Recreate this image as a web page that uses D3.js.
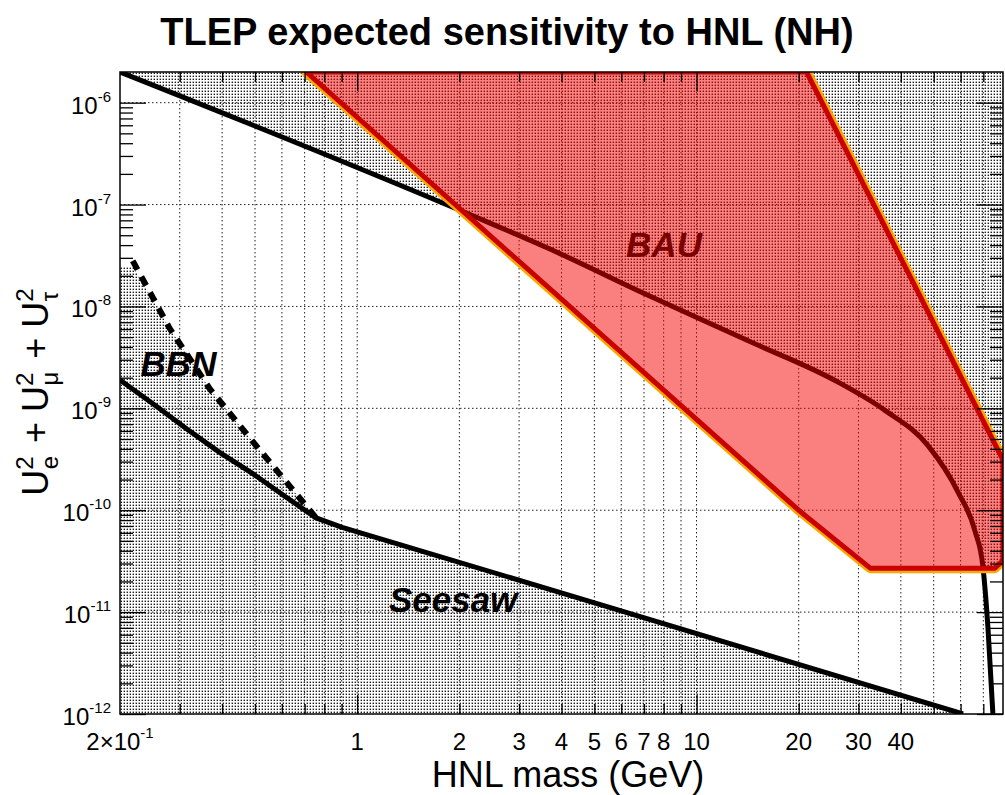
<!DOCTYPE html>
<html>
<head>
<meta charset="utf-8">
<script src="https://cdn.jsdelivr.net/npm/d3@7"></script>
<style>
  body { margin: 0; background: #fff; }
  svg { font-family: "Liberation Sans", Arial, Helvetica, sans-serif; }
</style>
</head>
<body>
<div id="chart"></div>
<script>
// 軸の範囲
var xDomain = [0.2, 80];
var yDomain = [1e-12, 2e-6];

// 目盛り
var xLabelTicks = [0.2, 1, 2, 3, 4, 5, 6, 7, 8, 10, 20, 30, 40];
var xMajorTicks = [1, 10];
var xMinorTicks = [0.3, 0.4, 0.5, 0.6, 0.7, 0.8, 0.9, 2, 3, 4, 5, 6, 7, 8, 9, 20, 30, 40, 50, 60, 70];
var yDecades = [1e-12, 1e-11, 1e-10, 1e-9, 1e-8, 1e-7, 1e-6];

// 上側の境界 (黒線, BAU 内部は暗赤に見える)
var upperMass = [0.2, 2.09, 3.67, 7.22, 14.2, 26.2, 36.0, 48.1, 59.0, 66.2, 69.8, 72.3, 74.7];
var upperU2 = [2e-6, 8.3e-8, 3.7e-8, 1.28e-8, 4.6e-9, 1.8e-9, 9.5e-10, 4.3e-10, 1.5e-10, 6.2e-11, 2.8e-11, 6.7e-12, 1e-12];

// Seesaw の下限
var seesawMass = [0.2, 0.256, 0.314, 0.393, 0.491, 0.618, 0.757, 0.903, 5.15, 61];
var seesawU2 = [1.9e-9, 1.05e-9, 6.3e-10, 3.7e-10, 2.3e-10, 1.34e-10, 8.4e-11, 6.8e-11, 1.2e-11, 1e-12];

// BBN (破線)
var bbnMass = [0.218, 0.28, 0.367, 0.498, 0.757];
var bbnU2 = [2.8e-8, 6.1e-9, 1.57e-9, 4.5e-10, 8.4e-11];

// BAU 領域
var bauMass = [0.708, 21.1, 80, 80, 75.7, 32.5, 20];
var bauU2 = [2e-6, 2e-6, 3.1e-10, 3.2e-11, 2.7e-11, 2.7e-11, 1e-10];

// 注記の位置 (質量, U2)
var noteText = ["BBN", "Seesaw", "BAU"];
var noteMass = [0.23, 1.24, 6.2];
var noteU2 = [2.1e-9, 1.0e-11, 3.05e-8];

var width = 1005;
var height = 795;
var padL = 120, padR = 1003, padT = 72, padB = 714;

var svg = d3.select("#chart")
    .append("svg")
    .attr("width", width)
    .attr("height", height);

var x = d3.scaleLog().domain(xDomain).range([padL, padR]);
var y = d3.scaleLog().domain(yDomain).range([padB, padT]);

function zip(xs, ys) {
    var out = [];
    for (var i = 0; i < xs.length; i++) out.push([xs[i], ys[i]]);
    return out;
}
function px(d) { return [x(d[0]), y(d[1])]; }

var defs = svg.append("defs");

// 点描パターン
var pat = defs.append("pattern")
    .attr("id", "dots")
    .attr("patternUnits", "userSpaceOnUse")
    .attr("width", 3)
    .attr("height", 3);
pat.append("rect")
    .attr("x", 0.6).attr("y", 0.6)
    .attr("width", 1.4).attr("height", 1.4)
    .attr("fill", "#1a1a1a");

defs.append("clipPath")
    .attr("id", "frameClip")
    .append("rect")
    .attr("x", padL).attr("y", padT)
    .attr("width", padR - padL).attr("height", padB - padT);

var bauPts = zip(bauMass, bauU2).map(px);
var bauPath = "M" + bauPts.map(function (p) { return p.join(","); }).join("L") + "Z";

var mask = defs.append("mask").attr("id", "outside");
mask.append("rect").attr("x", 0).attr("y", 0).attr("width", width).attr("height", height).attr("fill", "#fff");
mask.append("path").attr("d", bauPath).attr("fill", "#000");

var plot = svg.append("g").attr("clip-path", "url(#frameClip)");

// グリッド
plot.append("g")
    .selectAll("line")
    .data(xMinorTicks.concat(xMajorTicks))
    .enter()
    .append("line")
    .attr("x1", function (d) { return x(d); })
    .attr("x2", function (d) { return x(d); })
    .attr("y1", padT).attr("y2", padB)
    .attr("stroke", "#222")
    .attr("stroke-width", 1)
    .attr("stroke-dasharray", "1.5,2.5");

plot.append("g")
    .selectAll("line")
    .data(yDecades.slice(1))
    .enter()
    .append("line")
    .attr("x1", padL).attr("x2", padR)
    .attr("y1", function (d) { return y(d); })
    .attr("y2", function (d) { return y(d); })
    .attr("stroke", "#222")
    .attr("stroke-width", 1)
    .attr("stroke-dasharray", "1.5,2.5");

// 上側の除外領域
var upperLine = d3.line()
    .x(function (d) { return x(d[0]); })
    .y(function (d) { return y(d[1]); })
    .curve(d3.curveMonotoneX);
var upperData = zip(upperMass, upperU2);
var upperFill = upperLine(upperData.slice(0, 11)) +
    "L" + x(80) + "," + y(2.8e-11) +
    "L" + x(80) + "," + y(2e-6) +
    "L" + x(0.2) + "," + y(2e-6) + "Z";
plot.append("path")
    .attr("d", upperFill)
    .attr("fill", "url(#dots)");

// 下側 (BBN + Seesaw)
var linear = d3.line()
    .x(function (d) { return x(d[0]); })
    .y(function (d) { return y(d[1]); });
var lowerPts = [[0.2, 2.5e-8], [0.218, 2.5e-8]]
    .concat(zip(bbnMass, bbnU2).slice(1))
    .concat(zip(seesawMass, seesawU2).slice(7))
    .concat([[0.2, 1e-12]]);
plot.append("path")
    .attr("d", linear(lowerPts) + "Z")
    .attr("fill", "url(#dots)");

// 注記 (BAU は赤の半透明の下で暗赤に見える)
plot.append("g")
    .selectAll("text")
    .data(noteText)
    .enter()
    .append("text")
    .text(function (d) { return d; })
    .attr("x", function (d, i) { return x(noteMass[i]); })
    .attr("y", function (d, i) { return y(noteU2[i]); })
    .style("font-size", "35px")
    .style("font-weight", "bold")
    .style("font-style", "italic")
    .attr("fill", "#000");

// 曲線
plot.append("path")
    .attr("d", upperLine(upperData))
    .attr("fill", "none")
    .attr("stroke", "#000")
    .attr("stroke-width", 5);

plot.append("path")
    .attr("d", linear(zip(seesawMass, seesawU2)))
    .attr("fill", "none")
    .attr("stroke", "#000")
    .attr("stroke-width", 5);

plot.append("path")
    .attr("d", linear(zip(bbnMass, bbnU2)))
    .attr("fill", "none")
    .attr("stroke", "#000")
    .attr("stroke-width", 6)
    .attr("stroke-dasharray", "10,8");

// BAU 領域
plot.append("path")
    .attr("d", bauPath)
    .attr("fill", "none")
    .attr("stroke", "#ffa500")
    .attr("stroke-width", 10)
    .attr("stroke-linejoin", "round")
    .attr("mask", "url(#outside)");

plot.append("path")
    .attr("d", bauPath)
    .attr("fill", "rgba(245,0,0,0.5)")
    .attr("stroke", "none");

svg.append("path")
    .attr("d", bauPath)
    .attr("fill", "none")
    .attr("stroke", "#c80000")
    .attr("stroke-width", 5)
    .attr("stroke-linejoin", "round")
    .attr("clip-path", "url(#frameClip)");

// 枠
svg.append("rect")
    .attr("x", padL).attr("y", padT)
    .attr("width", padR - padL).attr("height", padB - padT)
    .attr("fill", "none")
    .attr("stroke", "#000")
    .attr("stroke-width", 1.5);

// 目盛り
var yMinor = [];
for (var k = -12; k <= -7; k++) {
    for (var m = 2; m <= 9; m++) yMinor.push(m * Math.pow(10, k));
}

function addAxis(axis, tx, ty) {
    var g = svg.append("g")
        .attr("transform", "translate(" + tx + "," + ty + ")")
        .call(axis);
    g.select(".domain").remove();
    g.selectAll("text").remove();
    g.selectAll("line").attr("stroke", "#000").attr("stroke-width", 1.3);
}

addAxis(d3.axisRight(y).tickValues(yDecades).tickSize(26), padL, 0);
addAxis(d3.axisRight(y).tickValues(yMinor).tickSize(13), padL, 0);
addAxis(d3.axisLeft(y).tickValues(yDecades).tickSize(26), padR, 0);
addAxis(d3.axisLeft(y).tickValues(yMinor).tickSize(13), padR, 0);
addAxis(d3.axisTop(x).tickValues(xMajorTicks).tickSize(19), 0, padB);
addAxis(d3.axisTop(x).tickValues(xMinorTicks).tickSize(10), 0, padB);
addAxis(d3.axisBottom(x).tickValues(xMajorTicks).tickSize(19), 0, padT);
addAxis(d3.axisBottom(x).tickValues(xMinorTicks).tickSize(10), 0, padT);

// 目盛りラベル
var yLab = svg.append("g")
    .selectAll("text")
    .data(yDecades)
    .enter()
    .append("text")
    .attr("x", padL - 9)
    .attr("y", function (d) { return y(d) + 11; })
    .attr("text-anchor", "end")
    .style("font-size", "24px");
yLab.append("tspan").text("10");
yLab.append("tspan")
    .attr("dy", -12)
    .style("font-size", "15px")
    .text(function (d) { return String(Math.round(Math.log10(d))); });

var xLab = svg.append("g")
    .selectAll("text")
    .data(xLabelTicks)
    .enter()
    .append("text")
    .attr("x", function (d) { return x(d); })
    .attr("y", 750)
    .attr("text-anchor", "middle")
    .style("font-size", "24px");
xLab.append("tspan").text(function (d) { return d < 1 ? "2\u00d710" : String(d); });
xLab.filter(function (d) { return d < 1; })
    .append("tspan")
    .attr("dy", -12)
    .style("font-size", "15px")
    .text("-1");

// タイトル
svg.append("text")
    .text("TLEP expected sensitivity to HNL (NH)")
    .attr("x", 507)
    .attr("y", 45)
    .attr("text-anchor", "middle")
    .style("font-size", "38px")
    .style("font-weight", "bold");

svg.append("text")
    .text("HNL mass (GeV)")
    .attr("x", 568)
    .attr("y", 787)
    .attr("text-anchor", "middle")
    .style("font-size", "36px");

// 縦軸タイトル
var yt = svg.append("text")
    .attr("transform", "translate(48,392) rotate(-90)")
    .attr("text-anchor", "middle")
    .style("font-size", "36px");
var subs = ["e", "\u03bc", "\u03c4"];
for (var i = 0; i < subs.length; i++) {
    yt.append("tspan").text((i > 0 ? " + " : "") + "U");
    yt.append("tspan").attr("dy", -15).style("font-size", "24px").text("2");
    yt.append("tspan").attr("dx", -13).attr("dy", 25).style("font-size", "24px").text(subs[i]);
    yt.append("tspan").attr("dy", -10).text("\u200a");
}
</script>
</body>
</html>
